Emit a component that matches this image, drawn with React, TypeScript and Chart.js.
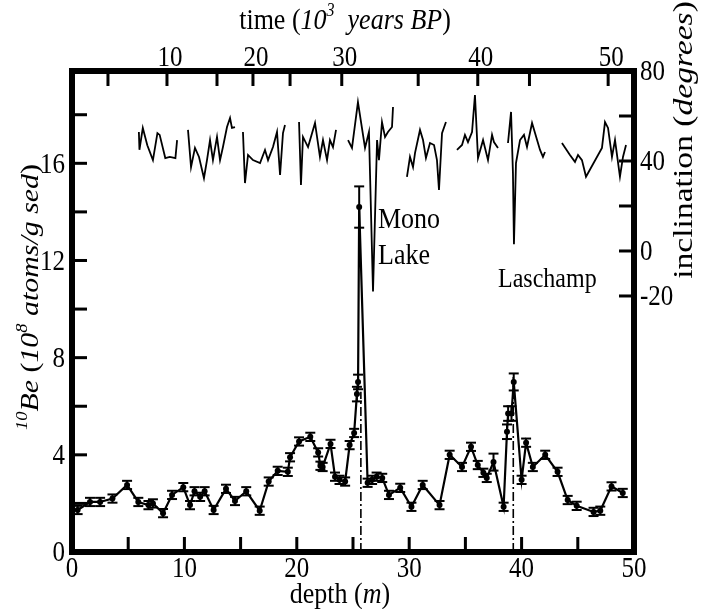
import React, { useEffect, useRef } from "react";
import { Chart, registerables } from "chart.js";
Chart.register(...registerables);

// 10Be concentration vs depth
const beDepth = [0.5, 1.6, 2.5, 3.6, 4.9, 5.9, 6.8, 7.2, 8.1, 8.9, 9.9, 10.5, 10.9, 11.4, 11.8, 12.6, 13.7, 14.5, 15.5, 16.7, 17.5, 18.3, 19.2, 19.4, 20.2, 21.2, 21.9, 22.1, 22.3, 23.0, 23.4, 23.8, 24.3, 24.7, 25.1, 25.35, 25.45, 25.55, 26.3, 26.7, 27.1, 27.6, 28.2, 29.2, 30.2, 31.2, 32.7, 33.6, 34.7, 35.5, 36.1, 36.6, 36.9, 37.5, 38.4, 38.7, 38.8, 39.1, 39.3, 40.0, 40.4, 41.0, 42.1, 43.2, 44.1, 44.9, 46.4, 47.0, 48.0, 49.0];
const be10 = [1.73, 2.06, 2.06, 2.2, 2.76, 2.06, 1.93, 2.0, 1.6, 2.35, 2.67, 1.93, 2.5, 2.27, 2.5, 1.73, 2.6, 2.1, 2.5, 1.7, 2.9, 3.34, 3.3, 3.9, 4.55, 4.74, 4.1, 3.55, 3.5, 4.45, 3.1, 2.97, 2.9, 4.4, 4.9, 6.5, 7.0, 14.2, 2.85, 2.97, 3.1, 3.05, 2.35, 2.64, 1.86, 2.76, 1.93, 4.0, 3.5, 4.33, 3.58, 3.26, 3.05, 3.7, 1.86, 4.95, 5.7, 5.7, 7.0, 2.97, 4.5, 3.5, 4.0, 3.3, 2.14, 1.9, 1.65, 1.7, 2.7, 2.43];
const beErr = [0.17, 0.17, 0.17, 0.17, 0.17, 0.17, 0.17, 0.17, 0.17, 0.17, 0.17, 0.17, 0.17, 0.17, 0.17, 0.17, 0.17, 0.17, 0.17, 0.17, 0.17, 0.17, 0.17, 0.17, 0.17, 0.17, 0.17, 0.17, 0.17, 0.17, 0.17, 0.17, 0.17, 0.17, 0.17, 0.3, 0.3, 0.85, 0.17, 0.17, 0.17, 0.17, 0.17, 0.17, 0.17, 0.17, 0.17, 0.17, 0.17, 0.17, 0.17, 0.17, 0.17, 0.35, 0.17, 0.3, 0.3, 0.3, 0.35, 0.17, 0.17, 0.17, 0.17, 0.17, 0.17, 0.17, 0.17, 0.17, 0.17, 0.17];

// Inclination (degrees) vs depth; null marks a gap in the record
const incDepth = [5.95, 6.0, 6.3, 6.7, 7.2, 7.6, 7.8, 8.3, 8.7, 9.2, 9.35, null,
  10.32, 10.59, 10.94, 11.3, 11.74, 12.01, 12.28, 12.54, 12.9, 13.17, 13.43, 13.79, 14.06, 14.23, 14.5, null,
  15.21, 15.39, 15.66, 16.1, 16.73, 17.17, 17.44, 17.88, 18.24, 18.51, 18.77, 18.95, null,
  20.2, 20.37, 20.55, 21.0, 21.62, 22.06, 22.33, 22.69, 22.95, 23.22, 23.49, null,
  24.56, 24.91, 25.44, 26.07, 26.42, 26.78, 27.14, 27.31, 27.58, 27.85, 28.11, 28.47, 28.56, null,
  29.8, 30.07, 30.34, 30.52, 30.96, 31.23, 31.49, 31.85, 32.21, 32.47, 32.65, 32.92, 33.27, null,
  34.25, 34.7, 34.96, 35.23, 35.59, 35.85, 36.12, 36.57, 37.01, 37.37, 37.54, 37.9, null,
  38.79, 39.06, 39.23, 39.32, 39.5, 39.86, 40.21, 40.48, 40.93, 41.64, 41.9, 42.08, null,
  43.59, 44.3, 44.75, 45.02, 45.37, 45.73, 47.15, 47.42, 47.69, 48.04, 48.31, 48.75, 49.02, 49.29];
const incValue = [52.9, 45, 54.7, 47, 40.4, 52.4, 51.6, 41.3, 41.8, 41.3, 49.3, null,
  53.8, 37.3, 45.8, 41.8, 32.4, 40.4, 49.3, 40.4, 50.7, 40.4, 46.2, 55.1, 59.1, 54.7, 55.1, null,
  52.9, 30.2, 42.7, 40.4, 39.1, 44.9, 40.4, 46.2, 52.9, 33.8, 52.4, 56, null,
  57.3, 29.3, 50.7, 46.2, 56.9, 41.8, 49.3, 40.4, 49.3, 46.2, 53.8, null,
  49.3, 45.8, 66.2, 45.8, 52.9, -18, 49.3, 40.4, 57.3, 50.7, 52.9, 55.1, 64, null,
  32.9, 41.8, 37.3, 43.6, 53.8, 49.3, 41.3, 48, 47.1, 40.4, 27.1, 52.4, 57.3, null,
  44.9, 47.1, 51.6, 48.4, 52.9, 69.3, 41.3, 49.3, 40.4, 51.6, 48.4, 45.8, null,
  48, 61.8, 34.7, 3, 39.1, 49.3, 51.6, 46.2, 56.9, 44.9, 41.8, 44, null,
  48, 42.7, 39.6, 42.7, 40.4, 33, 45.8, 57.3, 54.7, 41.8, 49.3, 33, 41.8, 47.1];

// Axes
const beTickMarks = [0, 2, 4, 6, 8, 10, 12, 14, 16, 18];
const beTickLabels = [0, 4, 8, 12, 16];
const depthTickMarks = [0, 5, 10, 15, 20, 25, 30, 35, 40, 45, 50];
const depthTickLabels = [0, 10, 20, 30, 40, 50];
const incTickMarks = [-20, 0, 20, 40, 60, 80];
const incTickLabels = [80, 40, 0, -20];
const timeTicks = [5, 10, 15, 20, 25, 30, 35, 40, 45, 50];
const timeTickDepths = [3.2, 8.45, 12.9, 16.1, 19.4, 24.0, 30.8, 36.1, 40.7, 47.7];
const timeTickLabels = [10, 20, 30, 40, 50];

// Geomagnetic excursions
const excursionDepth = [25.7, 39.26];
const excursionTop = [6.6, 7.2];

const FONT = '"Liberation Serif", "Times New Roman", serif';
const SY = 1.15;

type Part = { t: string; it?: boolean; sup?: boolean };

function drawRich(ctx: CanvasRenderingContext2D, parts: Part[], x: number, y: number, size: number, align: string, rot: boolean, sy: number = SY) {
  const f = (p: Part) => `${p.it ? "italic " : ""}${p.sup ? Math.round(size * 0.62) : size}px ${FONT}`;
  let w = 0;
  for (const p of parts) { ctx.font = f(p); w += ctx.measureText(p.t).width; }
  ctx.save();
  ctx.translate(x, y);
  ctx.scale(1, sy);
  if (rot) ctx.rotate(-Math.PI / 2);
  let cx = align === "center" ? -w / 2 : align === "right" ? -w : 0;
  ctx.textAlign = "left";
  ctx.textBaseline = "alphabetic";
  ctx.fillStyle = "#000";
  for (const p of parts) {
    ctx.font = f(p);
    ctx.fillText(p.t, cx, p.sup ? -size * 0.42 : 0);
    cx += ctx.measureText(p.t).width;
  }
  ctx.restore();
}

function seg(ctx: CanvasRenderingContext2D, x1: number, y1: number, x2: number, y2: number) {
  ctx.beginPath();
  ctx.moveTo(x1, y1);
  ctx.lineTo(x2, y2);
  ctx.stroke();
}

const decorPlugin = {
  id: "decor",
  beforeDatasetsDraw(chart: any) {
    const ctx: CanvasRenderingContext2D = chart.ctx;
    const x = chart.scales.x, y = chart.scales.y;
    ctx.save();
    ctx.setLineDash([]);
    ctx.strokeStyle = "#000";
    ctx.lineWidth = 2;
    for (let i = 0; i < beDepth.length; i++) {
      const px = x.getPixelForValue(beDepth[i]);
      const y1 = y.getPixelForValue(be10[i] - beErr[i]);
      const y2 = y.getPixelForValue(be10[i] + beErr[i]);
      seg(ctx, px, y1, px, y2);
      seg(ctx, px - 5, y1, px + 5, y1);
      seg(ctx, px - 5, y2, px + 5, y2);
    }
    ctx.restore();
  },
  afterDraw(chart: any) {
    const ctx: CanvasRenderingContext2D = chart.ctx;
    const a = chart.chartArea;
    const x = chart.scales.x, y = chart.scales.y, y2 = chart.scales.y2;
    ctx.save();
    ctx.fillStyle = "#000";
    const L = a.left, R = a.right, T = a.top, B = a.bottom;
    const F = 6;
    // frame
    ctx.fillRect(L - F / 2, T - F / 2, R - L + F, F);
    ctx.fillRect(L - F / 2, B - F / 2, R - L + F, F);
    ctx.fillRect(L - F / 2, T - F / 2, F, B - T + F);
    ctx.fillRect(R - F / 2, T - F / 2, F, B - T + F);
    // inward ticks
    const TL = 15, TW = 3;
    for (const v of beTickMarks) { const p = y.getPixelForValue(v); ctx.fillRect(L, p - TW / 2, TL, TW); }
    for (const v of incTickMarks) { const p = y2.getPixelForValue(v); ctx.fillRect(R - TL, p - TW / 2, TL, TW); }
    for (const v of depthTickMarks) { const p = x.getPixelForValue(v); ctx.fillRect(p - TW / 2, B - TL, TW, TL); }
    for (const d of timeTickDepths) { const p = x.getPixelForValue(d); ctx.fillRect(p - TW / 2, T, TW, TL); }
    ctx.restore();

    const TS = 25;
    const half = 0.66 * TS * SY / 2;
    for (const v of beTickLabels) drawRich(ctx, [{ t: String(v) }], a.left - 7, y.getPixelForValue(v) + half, TS, "right", false);
    for (const v of incTickLabels) drawRich(ctx, [{ t: String(v) }], a.right + 6, y2.getPixelForValue(v) + half, TS, "left", false);
    for (const v of depthTickLabels) drawRich(ctx, [{ t: String(v) }], x.getPixelForValue(v), a.bottom + 25, TS, "center", false);
    for (const v of timeTickLabels) {
      const d = timeTickDepths[timeTicks.indexOf(v)];
      drawRich(ctx, [{ t: String(v) }], x.getPixelForValue(d) + 3, a.top - 5, TS, "center", false);
    }
    // titles
    drawRich(ctx, [{ t: "time (" }, { t: "10", it: true }, { t: "3", it: true, sup: true }, { t: "  years BP", it: true }, { t: ")" }], 345, 29, 26, "center", false);
    drawRich(ctx, [{ t: "depth (" }, { t: "m", it: true }, { t: ")" }], 340, 603, 26, "center", false);
    drawRich(ctx, [{ t: "10", it: true, sup: true }, { t: "Be", it: true }, { t: " (" }, { t: "10", it: true }, { t: "8", it: true, sup: true }, { t: " atoms/g sed", it: true }, { t: ")" }], 38, 297, 26, "center", true);
    drawRich(ctx, [{ t: "inclination (" }, { t: "degrees", it: true }, { t: ")" }], 692, 140, 28, "center", true, 1.2);
    // annotations
    drawRich(ctx, [{ t: "Mono" }], 378, 228, 26, "left", false);
    drawRich(ctx, [{ t: "Lake" }], 378, 264, 26, "left", false);
    drawRich(ctx, [{ t: "Laschamp" }], 498, 287, 24, "left", false);
  },
};

export default function App() {
  const ref = useRef<HTMLCanvasElement>(null);
  useEffect(() => {
    if (!ref.current) return;
    const beData = beDepth.map((d, i) => ({ x: d, y: be10[i] }));
    const incData = incDepth.map((d, i) => ({ x: d === null ? (incDepth[i - 1] as number) + 0.01 : d, y: incValue[i] }));
    const excursionSets = excursionDepth.map((d, i) => ({
      data: [{ x: d, y: 0 }, { x: d, y: excursionTop[i] }],
      xAxisID: "x", yAxisID: "y",
      borderColor: "#000", borderWidth: 1.6, borderDash: [9, 3, 2, 3],
      pointRadius: 0, tension: 0,
    }));
    const chart = new Chart(ref.current, {
      type: "line",
      data: {
        datasets: [
          ...excursionSets,
          { data: incData as any, xAxisID: "x", yAxisID: "y2", borderColor: "#000", borderWidth: 1.8, pointRadius: 0, spanGaps: false, tension: 0 },
          { data: beData, xAxisID: "x", yAxisID: "y", borderColor: "#000", borderWidth: 2.2, pointRadius: 3, pointBackgroundColor: "#000", pointBorderColor: "#000", pointBorderWidth: 0, tension: 0 },
        ] as any,
      },
      options: {
        responsive: false,
        animation: false,
        events: [],
        layout: { padding: { left: 72, right: 69, top: 71, bottom: 57 } },
        plugins: { legend: { display: false }, tooltip: { enabled: false } },
        scales: {
          x: { type: "linear", min: 0, max: 50, display: false },
          y: { type: "linear", min: 0, max: 19.8, display: false },
          y2: { type: "linear", min: -133.8, max: 80, display: false },
        },
      },
      plugins: [decorPlugin],
    });
    return () => chart.destroy();
  }, []);
  return (
    <div style={{ position: "absolute", left: 0, top: 0, width: 703, height: 609, background: "#fff" }}>
      <canvas ref={ref} width={703} height={609} style={{ display: "block", width: 703, height: 609 }} />
    </div>
  );
}
